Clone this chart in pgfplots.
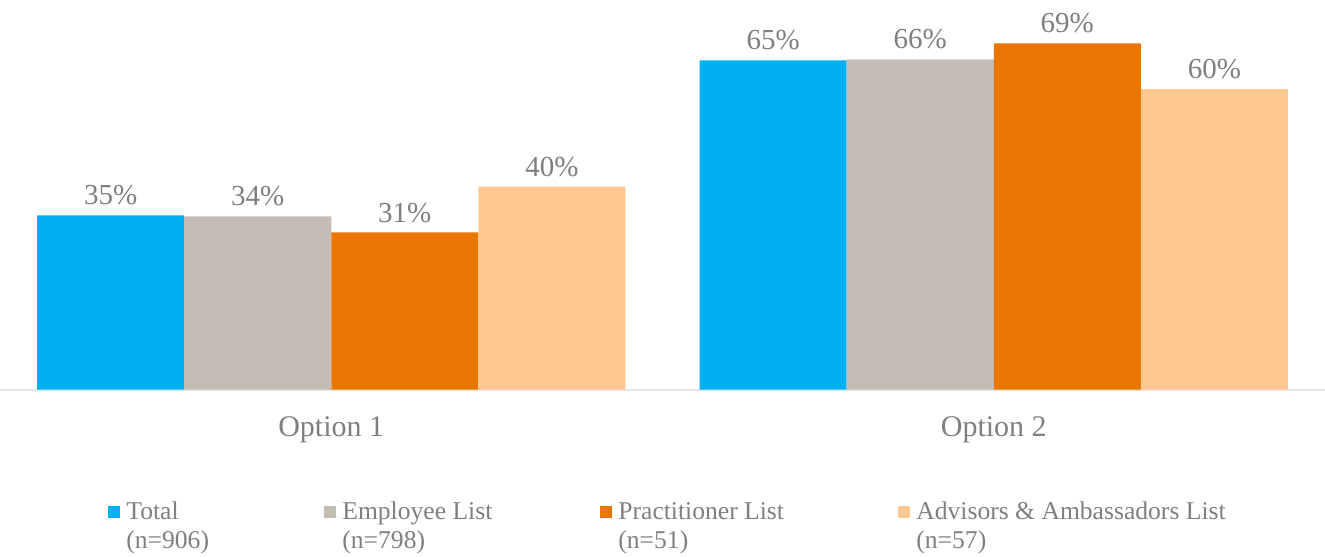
\documentclass[border=0pt]{standalone}
\usepackage{pgfplots}
\pgfplotsset{compat=1.18}
\usepackage{pgfplotstable}
\usepackage{fontspec}
\setmainfont{Liberation Serif}
\definecolor{cTot}{HTML}{00B0F0}
\definecolor{cEmp}{HTML}{C4BDB3}
\definecolor{cPra}{HTML}{E97600}
\definecolor{cAdv}{HTML}{FFC891}
\definecolor{txt}{HTML}{7F7F7F}
\definecolor{axl}{HTML}{E6E6E6}
\pgfplotstableread{
x y lab
0 34.6 35
1 65.4 65
}\tTot
\pgfplotstableread{
x y lab
0 34.4 34
1 65.6 66
}\tEmp
\pgfplotstableread{
x y lab
0 31.2 31
1 68.8 69
}\tPra
\pgfplotstableread{
x y lab
0 40.3 40
1 59.7 60
}\tAdv
\begin{document}
\begin{tikzpicture}
\begin{axis}[
  name=ax,
  scale only axis,
  width=662.5pt, height=194.75pt,
  xmin=-0.5, xmax=1.5, ymin=0, ymax=77.4,
  ybar=0pt, bar width=0.222,
  axis x line*=bottom, axis y line=none,
  x axis line style={draw=axl, line width=1pt, -},
  xtick={0,1}, xticklabels={Option 1, Option 2},
  major tick length=0pt,
  xticklabel style={font=\fontsize{15}{16}\selectfont, text=txt, yshift=-10pt},
  clip=false,
  point meta=explicit symbolic,
  nodes near coords={\pgfplotspointmeta\%},
  every node near coord/.append style={font=\fontsize{14.5}{16}\selectfont, text=txt, anchor=south, yshift=1.5pt},
  legend columns=4,
  legend cell align=left,
  legend style={draw=none, fill=none, inner sep=0pt, at={(axis description cs:0.0815,-0.2876)}, anchor=north west,
    font=\fontsize{12.8}{14.5}\selectfont, text=txt,
    nodes={inner sep=0pt},
    /tikz/every odd column/.append style={column sep=3pt}},
  legend image code/.code={\fill[#1,draw=none] (0pt,-3pt) rectangle (6pt,3pt);},
]
\addplot[fill=cTot, draw=none] table[x=x, y=y, meta=lab]{\tTot};
\addlegendentry{\parbox[t]{99pt}{Total\\(n=906)}}
\addplot[fill=cEmp, draw=none] table[x=x, y=y, meta=lab]{\tEmp};
\addlegendentry{\parbox[t]{129pt}{Employee List\\(n=798)}}
\addplot[fill=cPra, draw=none] table[x=x, y=y, meta=lab]{\tPra};
\addlegendentry{\parbox[t]{140pt}{Practitioner List\\(n=51)}}
\addplot[fill=cAdv, draw=none] table[x=x, y=y, meta=lab]{\tAdv};
\addlegendentry{\parbox[t]{160pt}{Advisors \& Ambassadors List\\(n=57)}}
\end{axis}
\pgfresetboundingbox
\path ([yshift=-83.25pt]ax.south west) rectangle (ax.north east);
\end{tikzpicture}
\end{document}
